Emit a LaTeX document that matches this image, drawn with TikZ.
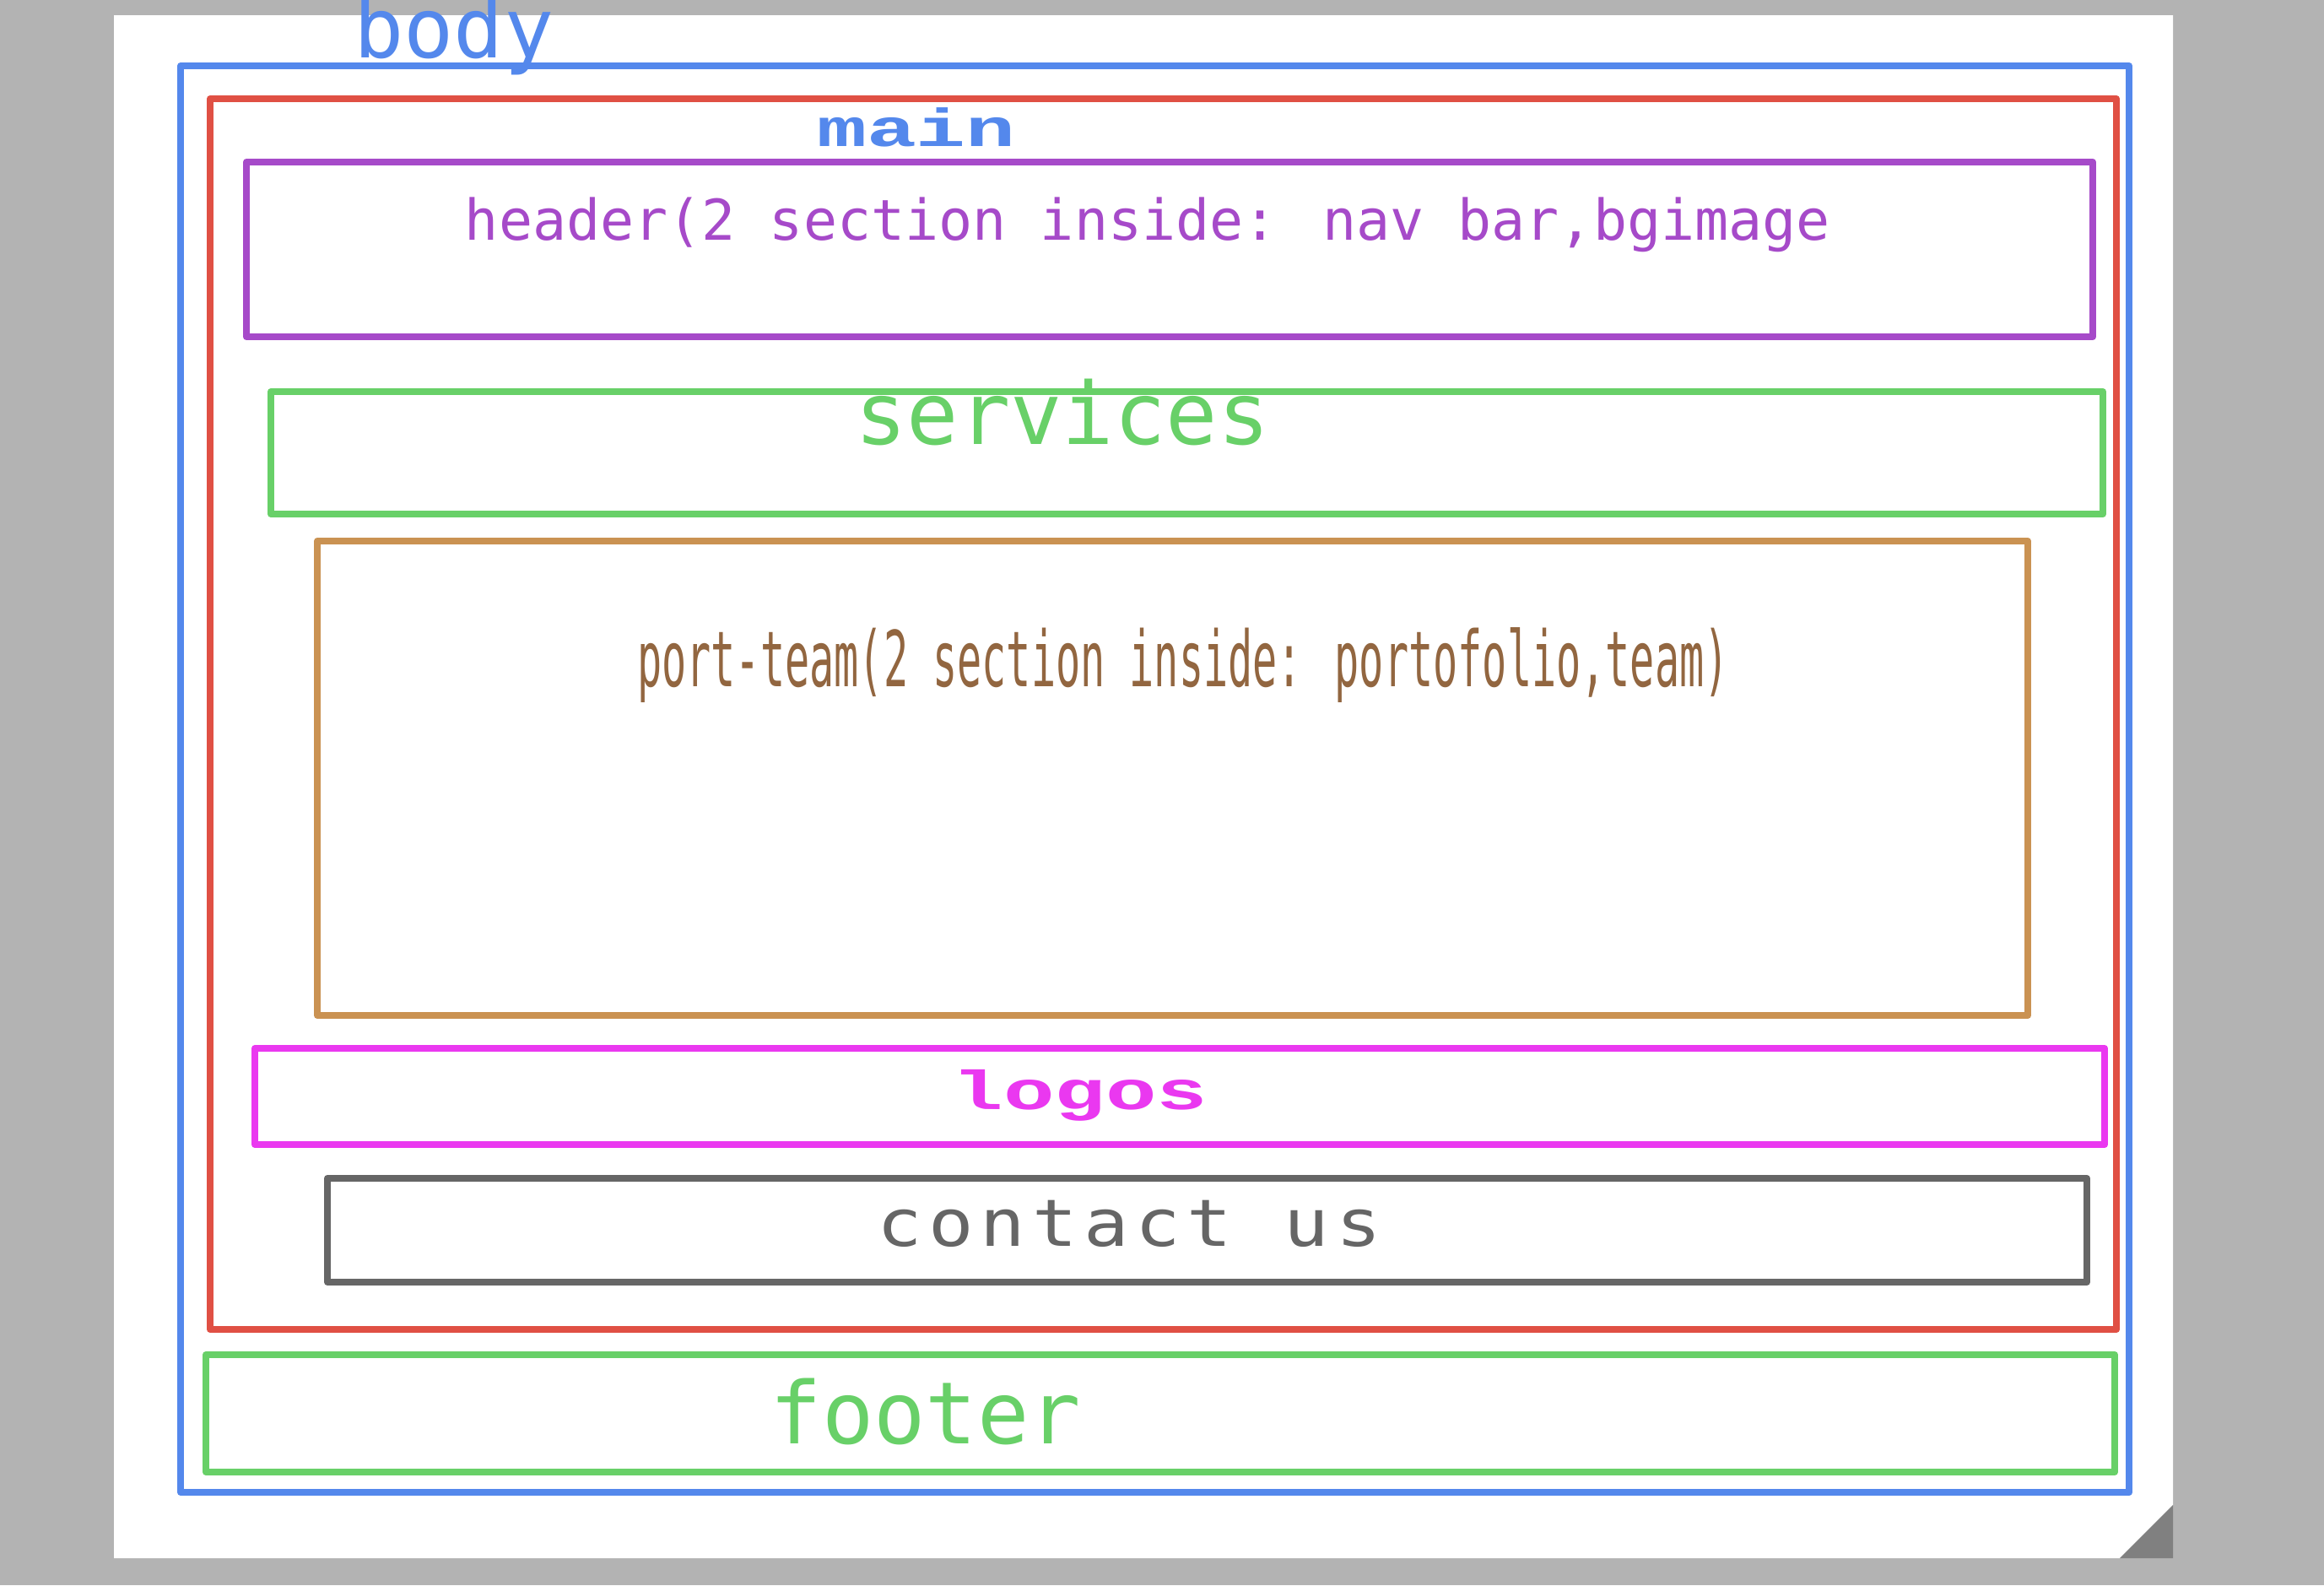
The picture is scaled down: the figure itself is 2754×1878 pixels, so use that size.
\documentclass[tikz,border=0pt]{standalone}
\usepackage{fontspec}
\usepackage{tikz}
\newfontfamily\sansmono{DejaVu Sans Mono}
\newfontfamily\narrowmono[FakeStretch=0.53]{DejaVu Sans Mono}
\newfontfamily\spacedmono[FakeStretch=1.15,LetterSpace=10]{DejaVu Sans Mono}
\newfontfamily\widemono[FakeStretch=1.55]{Liberation Mono}

\definecolor{bggray}{RGB}{179,179,179}
\definecolor{foldgray}{RGB}{128,128,128}
\definecolor{bodyblue}{RGB}{84,136,236}
\definecolor{mainred}{RGB}{224,80,68}
\definecolor{headpurple}{RGB}{166,74,201}
\definecolor{servgreen}{RGB}{104,208,104}
\definecolor{portorange}{RGB}{202,146,82}
\definecolor{portbrown}{RGB}{146,102,64}
\definecolor{logomagenta}{RGB}{234,56,240}
\definecolor{contactgray}{RGB}{102,102,102}

\begin{document}
\begin{tikzpicture}[x=0.01cm,y=-0.01cm,
  box/.style={line width=0.08cm,line join=round,line cap=round},
  tag/.style={inner sep=0pt,anchor=base}]

\useasboundingbox (0,0) rectangle (2754,1878);

% page
\fill[bggray] (0,0) rectangle (2754,1878);
\fill[white] (135,18) -- (2575,18) -- (2575,1783) -- (2512,1846) -- (135,1846) -- cycle;
\fill[foldgray] (2512,1846) -- (2575,1783) -- (2575,1846) -- cycle;

% boxes
\draw[box,bodyblue] (2523,1768) -- (214,1768) -- (214,78) -- (2523,78) -- (2523,1768);
\draw[box,mainred] (249,117) rectangle (2508,1575);
\draw[box,headpurple] (292,192) rectangle (2480,399);
\draw[box,servgreen] (321,464) rectangle (2492,609);
\draw[box,portorange] (376,641) rectangle (2403,1203);
\draw[box,logomagenta] (302,1242) rectangle (2494,1356);
\draw[box,contactgray] (388,1396) rectangle (2473,1519);
\draw[box,servgreen] (244,1605) rectangle (2506,1744);

% labels
\node[tag,bodyblue,font=\sansmono\fontsize{28}{28}\selectfont](body) at (538,68) {body};
\node[tag,bodyblue,font=\widemono\bfseries\fontsize{18}{18}\selectfont](main) at (1086,173) {main};
\node[tag,headpurple,font=\sansmono\fontsize{18.95}{18.95}\selectfont](header) at (1360,284) {header(2 section inside: nav bar,bgimage};
\node[tag,servgreen,font=\sansmono\fontsize{29}{29}\selectfont](services) at (1259,526) {services};
\node[tag,portbrown,font=\narrowmono\fontsize{26}{26}\selectfont](portteam) at (1402,813) {port-team(2 section inside: portofolio,team)};
\node[tag,logomagenta,font=\widemono\bfseries\fontsize{18.5}{18.5}\selectfont](logos) at (1280,1314) {logos};
\node[tag,contactgray,font=\spacedmono\fontsize{22}{22}\selectfont](contact) at (1338,1476) {contact us};
\node[tag,servgreen,font=\sansmono\fontsize{29}{29}\selectfont](footer) at (1097,1710) {footer};

\end{tikzpicture}
\end{document}
